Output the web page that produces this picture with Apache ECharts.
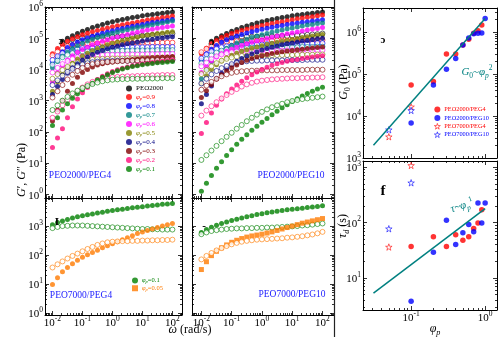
<!DOCTYPE html>
<html>
<head>
<meta charset="utf-8">
<script src="https://cdn.jsdelivr.net/npm/echarts@6/dist/echarts.min.js"></script>
<style>
  html, body { margin: 0; padding: 0; background: #fff; }
  #chart { width: 500px; height: 337px; }
</style>
</head>
<body>
<div id="chart"></div>
<script>
// ---------- data ----------
// angular frequency of the sweep (rad/s)
const omega = [0.01, 0.0147, 0.0215, 0.0316, 0.0464, 0.0681, 0.1, 0.147, 0.215, 0.316, 0.464, 0.681,
  1, 1.47, 2.15, 3.16, 4.64, 6.81, 10, 14.7, 21.5, 31.6, 46.4, 68.1, 100];

const sampleNames = ['PEO2000', 'φp=0.9', 'φp=0.8', 'φp=0.7', 'φp=0.6', 'φp=0.5', 'φp=0.4', 'φp=0.3', 'φp=0.2', 'φp=0.1'];

// moduli below are given in decades, log10(G / Pa)
const peo2000Storage = [null, null, 4.9, 5.0, 5.08, 5.15, 5.22, 5.28, 5.34, 5.39, 5.44, 5.49, 5.53, 5.57, 5.6, 5.63, 5.66, 5.69, 5.72, 5.74, 5.76, 5.78, 5.8, 5.82, 5.84];
const peo2000Loss = [null, null, 4.82, 4.9, 4.96, 5.0, 5.02, 5.03, 5.04, 5.05, 5.05, 5.05, 5.05, 5.05, 5.06, 5.06, 5.07, 5.07, 5.08, 5.09, 5.1, 5.11, 5.12, 5.13, 5.15];

// PEO2000/PEG4, storage modulus G'
const peg4Storage = [
  peo2000Storage,
  [4.5, 4.67, 4.8, 4.9, 4.98, 5.05, 5.11, 5.16, 5.21, 5.25, 5.29, 5.33, 5.37, 5.4, 5.43, 5.46, 5.49, 5.52, 5.55, 5.58, 5.61, 5.63, 5.66, 5.68, 5.71],
  [4.2, 4.4, 4.57, 4.7, 4.8, 4.88, 4.95, 5.01, 5.06, 5.11, 5.16, 5.2, 5.24, 5.28, 5.31, 5.35, 5.38, 5.41, 5.44, 5.47, 5.5, 5.52, 5.55, 5.57, 5.6],
  [4.05, 4.25, 4.42, 4.56, 4.67, 4.76, 4.84, 4.91, 4.97, 5.02, 5.07, 5.12, 5.16, 5.2, 5.24, 5.27, 5.31, 5.34, 5.37, 5.4, 5.43, 5.46, 5.49, 5.52, 5.55],
  [3.6, 3.9, 4.12, 4.3, 4.44, 4.55, 4.64, 4.72, 4.79, 4.85, 4.9, 4.95, 5.0, 5.04, 5.08, 5.12, 5.16, 5.19, 5.23, 5.26, 5.29, 5.32, 5.34, 5.37, 5.39],
  [3.3, 3.6, 3.85, 4.05, 4.2, 4.33, 4.43, 4.52, 4.6, 4.67, 4.73, 4.79, 4.84, 4.88, 4.92, 4.96, 5.0, 5.03, 5.07, 5.1, 5.13, 5.15, 5.17, 5.19, 5.21],
  [3.2, 3.45, 3.68, 3.88, 4.05, 4.18, 4.3, 4.4, 4.48, 4.55, 4.61, 4.66, 4.71, 4.75, 4.79, 4.82, 4.85, 4.88, 4.91, 4.94, 4.96, 4.99, 5.01, 5.03, 5.05],
  [2.35, 2.7, 3.0, 3.3, 3.55, 3.75, 3.9, 4.0, 4.08, 4.14, 4.18, 4.21, 4.24, 4.26, 4.28, 4.3, 4.32, 4.33, 4.35, 4.36, 4.37, 4.38, 4.39, 4.4, 4.41],
  [1.5, 1.8, 2.1, 2.45, 2.8, 3.05, 3.25, 3.42, 3.56, 3.68, 3.78, 3.86, 3.93, 3.99, 4.04, 4.08, 4.12, 4.15, 4.18, 4.2, 4.22, 4.24, 4.26, 4.28, 4.3],
  [2.2, 2.45, 2.7, 2.9, 3.08, 3.22, 3.35, 3.46, 3.56, 3.66, 3.75, 3.83, 3.9, 3.96, 4.01, 4.05, 4.09, 4.12, 4.15, 4.17, 4.19, 4.21, 4.22, 4.24, 4.25]
];
// PEO2000/PEG4, loss modulus G''
const peg4Loss = [
  peo2000Loss,
  [4.45, 4.57, 4.67, 4.74, 4.78, 4.8, 4.82, 4.83, 4.83, 4.84, 4.84, 4.84, 4.84, 4.85, 4.85, 4.85, 4.85, 4.85, 4.86, 4.86, 4.86, 4.86, 4.86, 4.86, 4.86],
  [4.3, 4.42, 4.52, 4.59, 4.63, 4.66, 4.68, 4.69, 4.69, 4.69, 4.7, 4.7, 4.7, 4.7, 4.7, 4.71, 4.71, 4.71, 4.71, 4.71, 4.72, 4.72, 4.72, 4.72, 4.72],
  [4.15, 4.28, 4.39, 4.47, 4.52, 4.55, 4.57, 4.58, 4.59, 4.59, 4.59, 4.6, 4.6, 4.6, 4.6, 4.6, 4.61, 4.61, 4.61, 4.61, 4.61, 4.62, 4.62, 4.62, 4.62],
  [3.9, 4.05, 4.17, 4.27, 4.34, 4.39, 4.42, 4.44, 4.45, 4.46, 4.46, 4.47, 4.47, 4.47, 4.47, 4.48, 4.48, 4.48, 4.48, 4.49, 4.49, 4.49, 4.5, 4.5, 4.5],
  [3.7, 3.85, 3.98, 4.08, 4.16, 4.22, 4.27, 4.3, 4.32, 4.33, 4.34, 4.34, 4.35, 4.35, 4.35, 4.36, 4.36, 4.36, 4.37, 4.37, 4.37, 4.38, 4.38, 4.38, 4.38],
  [3.5, 3.65, 3.8, 3.92, 4.02, 4.1, 4.16, 4.2, 4.23, 4.25, 4.26, 4.27, 4.27, 4.28, 4.28, 4.28, 4.28, 4.29, 4.29, 4.29, 4.29, 4.3, 4.3, 4.3, 4.3],
  [3.1, 3.3, 3.5, 3.68, 3.83, 3.95, 4.05, 4.12, 4.17, 4.2, 4.22, 4.24, 4.25, 4.26, 4.27, 4.27, 4.28, 4.28, 4.29, 4.29, 4.3, 4.3, 4.31, 4.31, 4.32],
  [2.45, 2.65, 2.85, 3.02, 3.17, 3.3, 3.42, 3.52, 3.6, 3.66, 3.7, 3.73, 3.75, 3.76, 3.77, 3.78, 3.78, 3.79, 3.8, 3.8, 3.81, 3.81, 3.82, 3.82, 3.82],
  [2.7, 2.85, 3.0, 3.12, 3.23, 3.32, 3.4, 3.47, 3.53, 3.58, 3.62, 3.65, 3.67, 3.68, 3.69, 3.69, 3.7, 3.7, 3.7, 3.71, 3.71, 3.71, 3.72, 3.72, 3.72]
];
// PEO2000/PEG10, storage modulus G'
const peg10Storage = [
  peo2000Storage,
  [4.5, 4.68, 4.82, 4.93, 5.02, 5.09, 5.15, 5.2, 5.25, 5.29, 5.33, 5.37, 5.41, 5.44, 5.47, 5.5, 5.53, 5.56, 5.59, 5.62, 5.65, 5.67, 5.69, 5.72, 5.74],
  [4.3, 4.5, 4.65, 4.77, 4.87, 4.95, 5.01, 5.07, 5.12, 5.17, 5.21, 5.25, 5.29, 5.32, 5.35, 5.38, 5.41, 5.44, 5.46, 5.49, 5.51, 5.53, 5.55, 5.57, 5.59],
  [3.7, 4.0, 4.25, 4.43, 4.57, 4.68, 4.77, 4.85, 4.91, 4.97, 5.02, 5.07, 5.11, 5.15, 5.19, 5.23, 5.26, 5.3, 5.33, 5.36, 5.39, 5.42, 5.44, 5.47, 5.49],
  [3.9, 4.1, 4.27, 4.4, 4.5, 4.58, 4.65, 4.71, 4.77, 4.82, 4.87, 4.91, 4.95, 4.99, 5.03, 5.07, 5.1, 5.14, 5.17, 5.2, 5.23, 5.26, 5.29, 5.31, 5.34],
  [3.55, 3.8, 4.0, 4.15, 4.27, 4.37, 4.45, 4.52, 4.58, 4.63, 4.68, 4.72, 4.76, 4.8, 4.84, 4.87, 4.9, 4.93, 4.96, 4.99, 5.02, 5.05, 5.07, 5.1, 5.12],
  [2.9, 3.2, 3.47, 3.7, 3.88, 4.03, 4.15, 4.26, 4.35, 4.43, 4.5, 4.56, 4.62, 4.67, 4.71, 4.75, 4.79, 4.82, 4.85, 4.88, 4.91, 4.93, 4.96, 4.98, 5.0],
  [3.1, 3.32, 3.52, 3.69, 3.83, 3.95, 4.05, 4.14, 4.22, 4.29, 4.35, 4.4, 4.44, 4.48, 4.51, 4.54, 4.57, 4.59, 4.61, 4.63, 4.65, 4.67, 4.69, 4.7, 4.72],
  [1.95, 2.3, 2.6, 2.85, 3.05, 3.22, 3.37, 3.5, 3.62, 3.73, 3.83, 3.92, 4.0, 4.07, 4.13, 4.18, 4.22, 4.26, 4.29, 4.32, 4.35, 4.37, 4.4, 4.42, 4.44],
  [0.1, 0.35, 0.6, 0.83, 1.04, 1.24, 1.43, 1.6, 1.76, 1.91, 2.05, 2.18, 2.31, 2.43, 2.55, 2.66, 2.77, 2.87, 2.97, 3.06, 3.15, 3.23, 3.3, 3.37, 3.43]
];
// PEO2000/PEG10, loss modulus G''
const peg10Loss = [
  peo2000Loss,
  [4.55, 4.66, 4.75, 4.82, 4.86, 4.89, 4.9, 4.91, 4.91, 4.91, 4.92, 4.92, 4.92, 4.92, 4.92, 4.93, 4.93, 4.93, 4.93, 4.93, 4.94, 4.94, 4.94, 4.94, 4.94],
  [4.35, 4.48, 4.58, 4.66, 4.71, 4.74, 4.76, 4.78, 4.79, 4.8, 4.8, 4.8, 4.8, 4.81, 4.81, 4.81, 4.81, 4.82, 4.82, 4.82, 4.82, 4.83, 4.83, 4.84, 4.84],
  [4.2, 4.33, 4.45, 4.54, 4.6, 4.64, 4.66, 4.68, 4.69, 4.69, 4.7, 4.7, 4.7, 4.7, 4.7, 4.71, 4.71, 4.71, 4.71, 4.71, 4.72, 4.72, 4.72, 4.73, 4.73],
  [4.1, 4.22, 4.33, 4.42, 4.48, 4.52, 4.55, 4.57, 4.58, 4.59, 4.59, 4.59, 4.6, 4.6, 4.6, 4.6, 4.6, 4.61, 4.61, 4.61, 4.61, 4.62, 4.62, 4.62, 4.62],
  [3.85, 3.98, 4.1, 4.2, 4.28, 4.34, 4.38, 4.41, 4.43, 4.44, 4.44, 4.45, 4.45, 4.45, 4.45, 4.46, 4.46, 4.46, 4.46, 4.47, 4.47, 4.47, 4.47, 4.48, 4.48],
  [3.55, 3.7, 3.84, 3.95, 4.04, 4.11, 4.17, 4.21, 4.24, 4.26, 4.27, 4.28, 4.28, 4.29, 4.29, 4.29, 4.29, 4.3, 4.3, 4.3, 4.3, 4.31, 4.31, 4.31, 4.31],
  [3.35, 3.48, 3.6, 3.7, 3.78, 3.84, 3.89, 3.92, 3.94, 3.95, 3.96, 3.96, 3.97, 3.97, 3.97, 3.97, 3.98, 3.98, 3.98, 3.98, 3.98, 3.99, 3.99, 3.99, 3.99],
  [2.52, 2.68, 2.82, 2.95, 3.07, 3.18, 3.28, 3.37, 3.45, 3.52, 3.57, 3.61, 3.64, 3.66, 3.68, 3.69, 3.7, 3.71, 3.72, 3.72, 3.73, 3.73, 3.74, 3.74, 3.75],
  [1.1, 1.25, 1.4, 1.55, 1.7, 1.84, 1.97, 2.1, 2.22, 2.34, 2.45, 2.55, 2.64, 2.72, 2.79, 2.85, 2.9, 2.95, 2.99, 3.02, 3.05, 3.07, 3.09, 3.11, 3.13]
];

// PEO7000 networks: φp = 0.1 and φp = 0.05
const peo7000Names = ['φp=0.1', 'φp=0.05'];
const peo7000Peg4Storage = [
  [3.05, 3.12, 3.18, 3.23, 3.28, 3.32, 3.36, 3.39, 3.42, 3.45, 3.48, 3.51, 3.54, 3.56, 3.58, 3.61, 3.63, 3.65, 3.67, 3.69, 3.71, 3.73, 3.75, 3.76, 3.78],
  [0.98, 1.22, 1.42, 1.57, 1.7, 1.82, 1.92, 2.01, 2.09, 2.17, 2.25, 2.32, 2.39, 2.46, 2.53, 2.6, 2.67, 2.74, 2.8, 2.85, 2.9, 2.95, 3.0, 3.05, 3.09]
];
const peo7000Peg4Loss = [
  [2.93, 2.97, 3.0, 3.01, 3.02, 3.02, 3.02, 3.01, 3.0, 2.99, 2.98, 2.97, 2.96, 2.95, 2.94, 2.93, 2.92, 2.91, 2.9, 2.9, 2.89, 2.89, 2.88, 2.88, 2.88],
  [1.57, 1.68, 1.78, 1.88, 1.97, 2.05, 2.13, 2.21, 2.28, 2.35, 2.4, 2.44, 2.46, 2.47, 2.48, 2.48, 2.49, 2.49, 2.5, 2.5, 2.51, 2.51, 2.52, 2.52, 2.53]
];
const peo7000Peg10Storage = [
  [2.78, 2.88, 2.96, 3.03, 3.09, 3.14, 3.19, 3.24, 3.28, 3.32, 3.36, 3.4, 3.43, 3.46, 3.49, 3.51, 3.54, 3.56, 3.58, 3.6, 3.62, 3.64, 3.66, 3.68, 3.7],
  [1.5, 1.77, 1.98, 2.13, 2.25, 2.35, 2.44, 2.51, 2.57, 2.62, 2.66, 2.69, 2.72, 2.76, 2.8, 2.85, 2.9, 2.95, 3.0, 3.05, 3.1, 3.14, 3.18, 3.22, 3.26]
];
const peo7000Peg10Loss = [
  [2.72, 2.78, 2.83, 2.86, 2.88, 2.9, 2.91, 2.92, 2.92, 2.93, 2.93, 2.94, 2.94, 2.95, 2.95, 2.96, 2.97, 2.98, 2.99, 3.0, 3.02, 3.03, 3.05, 3.07, 3.09],
  [1.85, 1.97, 2.07, 2.16, 2.24, 2.31, 2.37, 2.42, 2.46, 2.49, 2.51, 2.53, 2.54, 2.55, 2.56, 2.57, 2.58, 2.6, 2.61, 2.63, 2.65, 2.68, 2.71, 2.75, 2.8]
];

// plateau modulus G0 (Pa) and terminal time τd (s) against polymer fraction φp
const phiPeg4 = [0.1, 0.2, 0.3, 0.4, 0.5, 0.6, 0.7, 0.8, 0.9];
const g0Peg4 = [5.5e4, 6.6e4, 3.0e5, 3.0e5, 4.9e5, 6.7e5, 9.3e5, 1.07e6, 1.47e6];
const tauPeg4 = [37, 55, 37, 60, 48, 55, 78, 98, 170];
const phiPeg10 = [0.1, 0.2, 0.3, 0.4, 0.5, 0.6, 0.7, 0.8, 0.9, 1.0];
const g0Peg10 = [6.8e3, 5.5e4, 1.3e5, 2.35e5, 4.9e5, 7.2e5, 9.0e5, 9.3e5, 9.5e5, 2.1e6];
const tauPeg10 = [3.8, 29, 110, 40, 65, 92, 68, 225, 98, 225];
const phi7000 = [0.05, 0.1];
const g0Peo7000Peg4 = [3.2e3, 1.65e4];
const g0Peo7000Peg10 = [4.7e3, 1.35e4];
const tauPeo7000Peg4 = [36, 1070];
const tauPeo7000Peg10 = [77, 520];
// scaling guides G0 ~ φp^2 and τd ~ φp^1
const guidePhi = [0.031, 1.0];
const guideG0 = [2.0e3, 2.1e6];
const guideTau = [5.3, 178];

// ---------- styling ----------
const FONT = 'Liberation Serif';
const sampleColors = ['#000000', '#ff0000', '#0000ff', '#008080', '#ff00ff', '#808000', '#000080', '#800000', '#ff0a7a', '#008000'];
const peo7000Colors = ['#008000', '#ff7a00'];
const RED = '#ff0000', BLUE = '#0000ff', TEAL = '#008080', LABEL_BLUE = '#2222ff';
const STAR = 'path://M50,2 L61,36 L97,36 L68,57 L79,92 L50,71 L21,92 L32,57 L3,36 L39,36 Z';

// panels: 0 PEO2000/PEG4, 1 PEO2000/PEG10, 2 PEO7000/PEG4, 3 PEO7000/PEG10, 4 G0, 5 τd
const grids = [
  { left: 45, top: 7, width: 137, height: 191 },
  { left: 192, top: 7, width: 142, height: 191 },
  { left: 45, top: 198, width: 137, height: 117 },
  { left: 192, top: 198, width: 142, height: 117 },
  { left: 363, top: 8, width: 134, height: 150 },
  { left: 363, top: 161, width: 134, height: 149 }
].map(g => Object.assign({ outerBoundsMode: 'none', containLabel: false }, g));
const panelX = [[-2.25, 2.32], [-2.31, 2.38], [-2.25, 2.32], [-2.31, 2.38], [-1.65, 0.16], [-1.65, 0.16]];
const panelY = [[-0.12, 6], [-0.12, 6], [-0.07, 3.97], [-0.07, 3.97], [3, 6.57], [0.42, 3.11]];
const xLabelled = [false, false, true, true, false, true];
const yLabelled = [true, false, true, false, true, true];

// decade ticks (major) and 2..9 ticks (minor) inside a log10 range
function tickSets(lo, hi) {
  const major = [], minor = [];
  for (let n = Math.floor(lo) - 1; n <= Math.ceil(hi); n++) {
    if (n >= lo - 1e-9 && n <= hi + 1e-9) major.push(n);
    for (let k = 2; k <= 9; k++) {
      const v = n + Math.log10(k);
      if (v > lo && v < hi) minor.push(v);
    }
  }
  return { major, minor };
}

const powRich = {
  b: { fontFamily: FONT, fontSize: 11, lineHeight: 14, color: '#000', verticalAlign: 'bottom' },
  s: { fontFamily: FONT, fontSize: 7.5, lineHeight: 6, color: '#000', verticalAlign: 'top' }
};
const powLabel = v => '{b|10}{s|' + Math.round(v) + '}';

const xAxes = [], yAxes = [];
const mainAxis = [];
function addAxes(list, gi, dim, range, labelled) {
  const t = tickSets(range[0], range[1]);
  const sides = dim === 'x' ? ['bottom', 'top'] : ['left', 'right'];
  const first = list.length;
  sides.forEach((pos, si) => {
    [['major', 4], ['minor', 2]].forEach(([kind, len], ki) => {
      const withLabels = labelled && si === 0 && ki === 0;
      list.push({
        type: 'value', gridIndex: gi, position: pos, min: range[0], max: range[1],
        axisLine: { show: ki === 0, onZero: false, lineStyle: { color: '#000', width: 1 } },
        axisTick: { show: true, inside: true, length: len, customValues: t[kind], lineStyle: { color: '#000', width: 0.8 } },
        axisLabel: withLabels
          ? { show: true, customValues: t.major, formatter: powLabel, rich: powRich, margin: dim === 'x' ? 0 : 2 }
          : { show: false },
        splitLine: { show: false },
        silent: true
      });
    });
  });
  return first;
}
grids.forEach((g, gi) => {
  mainAxis.push({
    x: addAxes(xAxes, gi, 'x', panelX[gi], xLabelled[gi]),
    y: addAxes(yAxes, gi, 'y', panelY[gi], yLabelled[gi])
  });
});

// ---------- series ----------
const series = [];
function sweep(name, ys, gi, color, open, symbol) {
  const data = [];
  omega.forEach((w, i) => { if (ys[i] != null) data.push([Math.log10(w), ys[i]]); });
  return {
    type: 'scatter', name, xAxisIndex: mainAxis[gi].x, yAxisIndex: mainAxis[gi].y, data,
    symbol: symbol || 'circle', symbolSize: open ? 5 : 5,
    itemStyle: open ? { color: '#ffffff', borderColor: color, borderWidth: 0.8 } : { color, borderWidth: 0 },
    silent: true
  };
}
function sweepPanel(gi, names, colors, storage, loss, filledSymbols) {
  storage.forEach((ys, i) => {
    series.push(sweep(names[i], ys, gi, colors[i], false, filledSymbols && filledSymbols[i]));
    series.push(sweep(names[i], loss[i], gi, colors[i], true));
  });
}
sweepPanel(0, sampleNames, sampleColors, peg4Storage, peg4Loss);
sweepPanel(1, sampleNames, sampleColors, peg10Storage, peg10Loss);
sweepPanel(2, peo7000Names, peo7000Colors, peo7000Peg4Storage, peo7000Peg4Loss);
sweepPanel(3, peo7000Names, peo7000Colors, peo7000Peg10Storage, peo7000Peg10Loss, ['circle', 'rect']);

function phiSeries(name, phis, vals, gi, color, star) {
  return {
    type: 'scatter', name, xAxisIndex: mainAxis[gi].x, yAxisIndex: mainAxis[gi].y,
    data: phis.map((p, i) => [Math.log10(p), Math.log10(vals[i])]),
    symbol: star ? STAR : 'circle', symbolSize: star ? 6.5 : 5.5,
    itemStyle: star ? { color: '#ffffff', borderColor: color, borderWidth: 0.7, opacity: 0.85 } : { color, borderWidth: 0 },
    silent: true, z: 3
  };
}
function guide(vals, gi) {
  return {
    type: 'line', name: 'guide', xAxisIndex: mainAxis[gi].x, yAxisIndex: mainAxis[gi].y,
    data: guidePhi.map((p, i) => [Math.log10(p), Math.log10(vals[i])]),
    symbol: 'none', lineStyle: { color: TEAL, width: 1.5 }, silent: true, z: 4
  };
}
series.push(phiSeries('PEO2000/PEG4', phiPeg4, g0Peg4, 4, RED, false));
series.push(phiSeries('PEO2000/PEG10', phiPeg10, g0Peg10, 4, BLUE, false));
series.push(phiSeries('PEO7000/PEG4', phi7000, g0Peo7000Peg4, 4, RED, true));
series.push(phiSeries('PEO7000/PEG10', phi7000, g0Peo7000Peg10, 4, BLUE, true));
series.push(guide(guideG0, 4));
series.push(phiSeries('PEO2000/PEG4', phiPeg4, tauPeg4, 5, RED, false));
series.push(phiSeries('PEO2000/PEG10', phiPeg10, tauPeg10, 5, BLUE, false));
series.push(phiSeries('PEO7000/PEG4', phi7000, tauPeo7000Peg4, 5, RED, true));
series.push(phiSeries('PEO7000/PEG10', phi7000, tauPeo7000Peg10, 5, BLUE, true));
series.push(guide(guideTau, 5));

// ---------- legends ----------
function phiRich(size) {
  return {
    f: { fontFamily: FONT, fontStyle: 'italic', fontSize: size, lineHeight: size + 1 },
    p: { fontFamily: FONT, fontStyle: 'italic', fontSize: size * 0.7, lineHeight: 4, verticalAlign: 'bottom' },
    t: { fontFamily: FONT, fontSize: size, lineHeight: size + 1 }
  };
}
const phiFormatter = n => n.indexOf('φp') === 0 ? '{f|φ}{p|p}{t|' + n.slice(2) + '}' : '{t|' + n + '}';

const legends = [
  {
    left: 126, top: 85, orient: 'vertical', padding: 0, itemGap: 1.5, itemWidth: 6, itemHeight: 6,
    selectedMode: false, formatter: phiFormatter,
    textStyle: { fontFamily: FONT, fontSize: 7, padding: [0, 0, 0, -1], rich: phiRich(7) },
    data: sampleNames.map((n, i) => ({ name: n, icon: 'circle', itemStyle: { color: sampleColors[i] }, textStyle: { color: sampleColors[i] } }))
  },
  {
    left: 132, top: 277, orient: 'vertical', padding: 0, itemGap: 0.5, itemWidth: 6, itemHeight: 6,
    selectedMode: false, formatter: phiFormatter,
    textStyle: { fontFamily: FONT, fontSize: 6.5, padding: [0, 0, 0, -1], rich: phiRich(6.5) },
    data: peo7000Names.map((n, i) => ({ name: n, icon: i === 0 ? 'circle' : 'rect', itemStyle: { color: peo7000Colors[i] }, textStyle: { color: peo7000Colors[i] } }))
  },
  {
    left: 434, top: 106, orient: 'vertical', padding: 0, itemGap: 1.4, itemWidth: 6, itemHeight: 6,
    selectedMode: false,
    textStyle: { fontFamily: FONT, fontSize: 6.3, lineHeight: 7, padding: [0, 0, 0, -1] },
    data: [
      { name: 'PEO2000/PEG4', icon: 'circle', itemStyle: { color: RED }, textStyle: { color: RED } },
      { name: 'PEO2000/PEG10', icon: 'circle', itemStyle: { color: BLUE }, textStyle: { color: BLUE } },
      { name: 'PEO7000/PEG4', icon: STAR, itemStyle: { color: '#fff', borderColor: RED, borderWidth: 0.7 }, textStyle: { color: RED } },
      { name: 'PEO7000/PEG10', icon: STAR, itemStyle: { color: '#fff', borderColor: BLUE, borderWidth: 0.7 }, textStyle: { color: BLUE } }
    ]
  }
];

// ---------- text annotations ----------
function gRich(size, fill) {
  return {
    n: { fontFamily: FONT, fontSize: size, lineHeight: size + 4, fill },
    i: { fontFamily: FONT, fontSize: size, lineHeight: size + 4, fontStyle: 'italic', fill },
    sub: { fontFamily: FONT, fontSize: size * 0.68, lineHeight: 6, verticalAlign: 'bottom', fill },
    subi: { fontFamily: FONT, fontSize: size * 0.68, lineHeight: 6, verticalAlign: 'bottom', fontStyle: 'italic', fill },
    sup: { fontFamily: FONT, fontSize: size * 0.68, lineHeight: 6, verticalAlign: 'top', fill }
  };
}
function gtext(x, y, text, size, fill, extra) {
  return Object.assign({
    type: 'text', x, y, silent: true, z: 100,
    style: { text, rich: gRich(size, fill), fontFamily: FONT, fontSize: size, fill, align: 'center', verticalAlign: 'middle' }
  }, extra || {});
}
function plain(x, y, text, size, fill, weight, extra) {
  return Object.assign({
    type: 'text', x, y, silent: true, z: 100,
    style: { text, fontFamily: FONT, fontSize: size, fontWeight: weight || 'normal', fill, align: 'center', verticalAlign: 'middle' }
  }, extra || {});
}

const graphics = [
  { type: 'line', silent: true, z: 90, shape: { x1: 334.5, y1: 0, x2: 334.5, y2: 337 }, style: { stroke: '#222', lineWidth: 1.2 } },
  // axis titles
  gtext(22, 170, '{i|G}{n|′, }{i|G}{n|″ (Pa)}', 12, '#000', { rotation: Math.PI / 2 }),
  gtext(190, 330, '{i|ω}{n| (rad/s)}', 12, '#000'),
  gtext(344, 82, '{i|G}{sub|0}{n| (Pa)}', 12, '#000', { rotation: Math.PI / 2 }),
  gtext(343, 226, '{i|τ}{subi|d}{n| (s)}', 12, '#000', { rotation: Math.PI / 2 }),
  gtext(435, 329, '{i|φ}{subi|p}', 12, '#000'),
  // panel captions
  plain(80, 175, 'PEO2000/PEG4', 9.5, LABEL_BLUE),
  plain(291, 175, 'PEO2000/PEG10', 9.5, LABEL_BLUE),
  plain(81, 295, 'PEO7000/PEG4', 9.5, LABEL_BLUE),
  plain(292, 294, 'PEO7000/PEG10', 9.5, LABEL_BLUE),
  // panel letters
  plain(61, 41, 'ɔ', 11, '#000', 'bold'),
  plain(212, 42, 'ɔ', 11, '#000', 'bold'),
  plain(383, 40, 'ɔ', 11, '#000', 'bold'),
  plain(57, 222, 'I', 11, '#000', 'bold'),
  plain(204, 226, '-', 11, '#000', 'bold'),
  plain(383, 191, 'f', 15, '#000', 'bold'),
  // scaling guides
  gtext(477, 72, '{i|G}{sub|0}{n|~}{i|φ}{subi|p}{sup|2}', 11, TEAL),
  gtext(462, 206, '{i|τ}{n|~}{i|φ}{subi|p}{sup|1}', 11, TEAL, { rotation: 0.3 })
];

const chart = echarts.init(document.getElementById('chart'), null, { renderer: 'canvas', width: 500, height: 337 });
chart.setOption({
  animation: false,
  backgroundColor: '#ffffff',
  textStyle: { fontFamily: FONT },
  grid: grids,
  xAxis: xAxes,
  yAxis: yAxes,
  legend: legends,
  series,
  graphic: graphics
});
</script>
</body>
</html>
